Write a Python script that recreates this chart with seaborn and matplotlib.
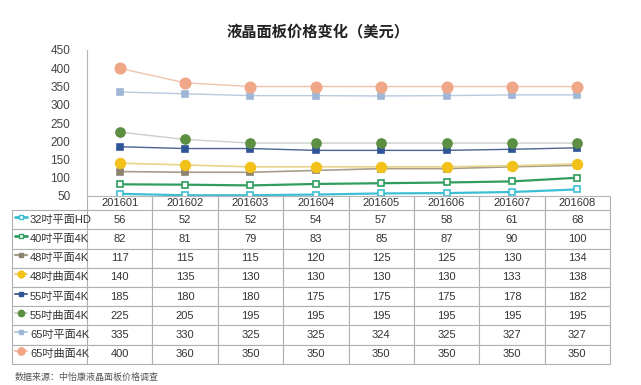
import numpy as np
import pandas as pd
import matplotlib
matplotlib.use("Agg")
import matplotlib.pyplot as plt
import seaborn as sns
from matplotlib.lines import Line2D

# ---------------- data ----------------
months = ['201601', '201602', '201603', '201604', '201605', '201606', '201607', '201608']
series_names = ['32吋平面HD', '40吋平面4K', '48吋平面4K', '48吋曲面4K',
                '55吋平面4K', '55吋曲面4K', '65吋平面4K', '65吋曲面4K']
p32_flat_hd = [56, 52, 52, 54, 57, 58, 61, 68]
p40_flat_4k = [82, 81, 79, 83, 85, 87, 90, 100]
p48_flat_4k = [117, 115, 115, 120, 125, 125, 130, 134]
p48_curve_4k = [140, 135, 130, 130, 130, 130, 133, 138]
p55_flat_4k = [185, 180, 180, 175, 175, 175, 178, 182]
p55_curve_4k = [225, 205, 195, 195, 195, 195, 195, 195]
p65_flat_4k = [335, 330, 325, 325, 324, 325, 327, 327]
p65_curve_4k = [400, 360, 350, 350, 350, 350, 350, 350]
all_values = [p32_flat_hd, p40_flat_4k, p48_flat_4k, p48_curve_4k,
              p55_flat_4k, p55_curve_4k, p65_flat_4k, p65_curve_4k]

# ---------------- styles ----------------
# (line color, marker, marker face, marker edge, marker size, line width)
styles = [
    ('#3dbfd3', 's', 'white', '#3dbfd3', 4.5, 1.6),
    ('#2f9d5e', 's', 'white', '#2f9d5e', 4.5, 1.6),
    ('#a89e88', 's', '#8d8270', '#8d8270', 4.5, 1.2),
    ('#e8d48a', 'o', '#f2c21a', '#f2c21a', 7.0, 1.2),
    ('#4a6390', 's', '#2f5597', '#2f5597', 4.5, 1.0),
    ('#c9d0c6', 'o', '#5c8f42', '#5c8f42', 6.5, 1.0),
    ('#b9c9de', 's', '#9fb6d6', '#9fb6d6', 4.5, 1.0),
    ('#f1c2ae', 'o', '#f0a788', '#f0a788', 7.5, 1.0),
]

sns.set_style("white")
plt.rcParams['font.family'] = ['Liberation Sans', 'Noto Sans CJK SC', 'DejaVu Sans']

W, H = 641, 385
fig = plt.figure(figsize=(W / 100, H / 100), dpi=100)

def fx(px):
    return px / W

def fy(py):
    return 1 - py / H

# plot area in pixels
ax_l, ax_r, ax_t, ax_b = 87, 610, 50, 196
ax = fig.add_axes([fx(ax_l), fy(ax_b), fx(ax_r - ax_l), (ax_b - ax_t) / H])

x = np.arange(len(months))
for name, vals, st in zip(series_names, all_values, styles):
    lc, mk, mf, me, ms, lw = st
    df = pd.DataFrame({'x': x, 'y': vals})
    sns.lineplot(data=df, x='x', y='y', ax=ax, color=lc, linewidth=lw,
                 marker=mk, markersize=ms, markerfacecolor=mf,
                 markeredgecolor=me, markeredgewidth=1.2, legend=False)

ax.set_xlim(-0.5, len(months) - 0.5)
ax.set_ylim(50, 450)
ax.set_yticks(np.arange(50, 451, 50))
ax.set_xticks([])
ax.set_xlabel('')
ax.set_ylabel('')
ax.tick_params(axis='y', length=0, labelsize=8.5, labelcolor='#444444', pad=12)
for s in ['top', 'right']:
    ax.spines[s].set_visible(False)
ax.spines['left'].set_color('#b5b5b5')
ax.spines['bottom'].set_color('#b5b5b5')
ax.spines['left'].set_linewidth(0.8)
ax.spines['bottom'].set_linewidth(0.8)

# ---------------- table ----------------
tab_l = 12
head_h = 14
row_h = 19.25
tab_bot = ax_b + head_h + row_h * len(series_names)
label_w = ax_l - tab_l
col_w = (ax_r - ax_l) / len(months)

cell_text = [[''] + [str(v) for v in vals] for vals in all_values]
col_labels = [''] + months
plot_h = ax_b - ax_t
plot_w = ax_r - ax_l
tbl = ax.table(cellText=cell_text, colLabels=col_labels,
               colWidths=[label_w / plot_w] + [col_w / plot_w] * len(months),
               cellLoc='center',
               bbox=[(tab_l - ax_l) / plot_w, -(tab_bot - ax_b) / plot_h,
                     (ax_r - tab_l) / plot_w, (tab_bot - ax_b) / plot_h])
tbl.auto_set_font_size(False)
tbl.set_fontsize(8)
for (r, c), cell in tbl.get_celld().items():
    cell.set_edgecolor('#b0b0b0')
    cell.set_linewidth(0.8)
    cell.get_text().set_color('#333333')
    if r == 0:
        cell.set_height(cell.get_height() * head_h / row_h)
        cell.visible_edges = 'open' if c == 0 else 'LR'

# row labels with legend keys
for i, (name, st) in enumerate(zip(series_names, styles)):
    lc, mk, mf, me, ms, lw = st
    cy = ax_b + head_h + row_h * (i + 0.5)
    key = Line2D([fx(15), fx(21), fx(27)], [fy(cy - 3)] * 3, transform=fig.transFigure,
                 color=lc, linewidth=lw + 0.4, marker=mk, markevery=[1],
                 markersize=ms * 0.7, markerfacecolor=mf, markeredgecolor=me,
                 markeredgewidth=1.0)
    fig.add_artist(key)
    fig.text(fx(30), fy(cy), name, fontsize=8, color='#333333',
             ha='left', va='center')

# ---------------- titles ----------------
fig.text(fx(318), fy(31), '液晶面板价格变化（美元）', fontsize=11, fontweight='bold',
         family=['Noto Sans CJK SC', 'DejaVu Sans'], color='#222222',
         ha='center', va='center')
fig.text(fx(15), fy(377), '数据来源：中怡康液晶面板价格调查', fontsize=6.5,
         family=['Noto Sans CJK SC', 'DejaVu Sans'], color='#555555',
         ha='left', va='center')

fig.savefig('out.png', dpi=100)
